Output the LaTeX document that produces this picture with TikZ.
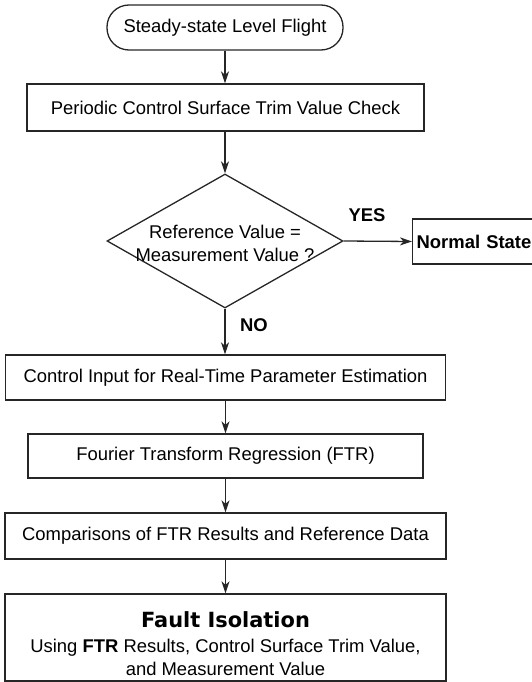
\documentclass[tikz,border=0pt]{standalone}
\usepackage{fontspec}
\setmainfont{Liberation Sans}
\newfontfamily\headfont{DejaVu Sans}
\usetikzlibrary{arrows.meta,shapes.geometric}
\begin{document}
\begin{tikzpicture}[x=1bp,y=-1bp,
  every node/.style={font=\fontsize{18.5}{23}\selectfont, text=black},
  line/.style={draw=black!85, line width=1.3bp},
  box/.style={line, rectangle, inner sep=0pt},
  arr/.style={line, -{Stealth[length=12bp,width=8bp,inset=3.5bp]}},
  boldlabel/.style={font=\fontsize{18.5}{23}\selectfont\bfseries},
]
\clip (0,0) rectangle (532,682);

% process chain
\node[box, minimum width=236bp, minimum height=45bp, rounded corners=22bp]
  (start) at (225,27.5) {Steady-state Level Flight};
\node[box, minimum width=397bp, minimum height=47bp]
  (check) at (225.5,107.5) {Periodic Control Surface Trim Value Check};
\node[line, diamond, minimum width=236bp, minimum height=134bp, inner sep=0pt]
  (dec) at (225,241) {};
\node[align=center] (dectext) at (225,243) {Reference Value =\\Measurement Value ?};
\node[box, boldlabel, anchor=west, minimum height=45bp, text width=140bp, inner xsep=4bp]
  (normal) at (412,241.5) {Normal State};
\node[box, minimum width=440bp, minimum height=45bp]
  (ctrl) at (225.5,377.5) {Control Input for Real-Time Parameter Estimation};
\node[box, minimum width=395bp, minimum height=44bp]
  (ftr) at (225.5,456) {Fourier Transform Regression (FTR)};
\node[box, minimum width=441bp, minimum height=46bp]
  (cmp) at (225.5,536) {Comparisons of FTR Results and Reference Data};
\node[box, minimum width=441bp, minimum height=87bp]
  (fault) at (225.5,637.5) {};
\node[align=center] (faulttext) at (225.5,644)
  {{\headfont\bfseries\fontsize{21}{25}\selectfont Fault Isolation}\\[2bp]
   Using \textbf{FTR} Results, Control Surface Trim Value,\\
   and Measurement Value};

% branch labels
\node[boldlabel] (yes) at (367,215) {YES};
\node[boldlabel] (no) at (254,325) {NO};

% connectors
\draw[arr] (start.south) -- (start.south |- check.north);
\draw[arr] (dec.north |- check.south) -- (dec.north);
\draw[arr] (dec.east) -- (normal.west);
\draw[arr] (dec.south) -- (dec.south |- ctrl.north);
\draw[arr] (ctrl.south) -- (ftr.north);
\draw[arr] (ftr.south) -- (cmp.north);
\draw[arr] (cmp.south) -- (fault.north);
\end{tikzpicture}
\end{document}
